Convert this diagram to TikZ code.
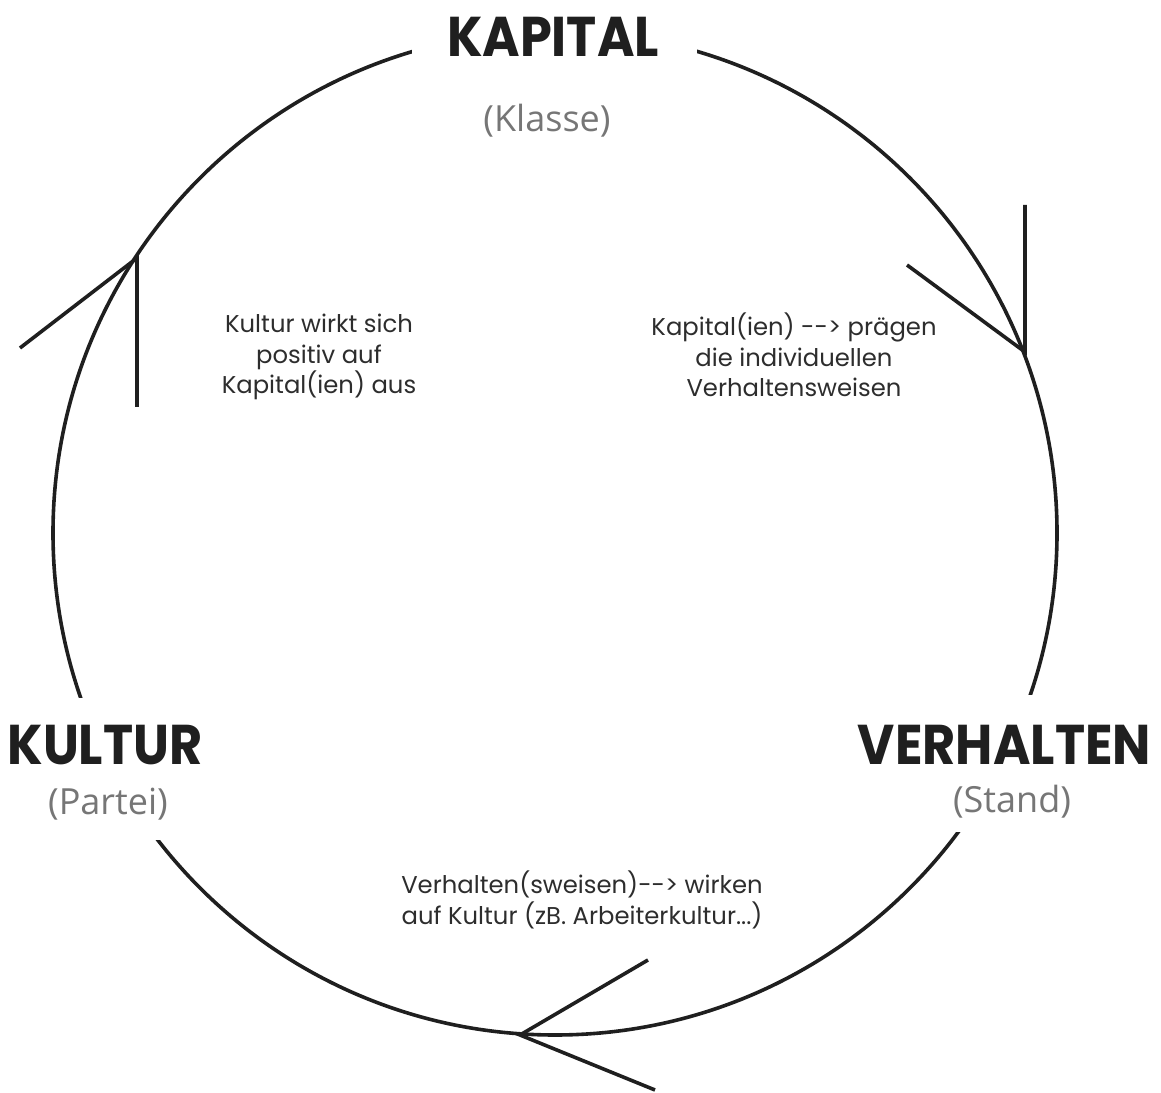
\documentclass[tikz,border=0pt]{standalone}
\usepackage{fontspec}
\setmainfont{Poppins}
\newfontfamily\titlefont{Poppins}[FakeStretch=0.91]
\newfontfamily\subfont{Open Sans}
\definecolor{subgray}{RGB}{118,118,118}
\definecolor{notegray}{RGB}{45,45,45}

\begin{document}
\begin{tikzpicture}[x=1pt,y=1pt,
  ring/.style={line width=3.6pt,black!88},
  maskbox/.style={fill=white,inner sep=0pt},
  title/.style={font=\titlefont\fontsize{56}{56}\selectfont\bfseries,text=black!88},
  sub/.style={font=\subfont\fontsize{36}{36}\selectfont,text=subgray},
  note/.style={font=\fontsize{24.3}{30.5}\selectfont,text=notegray,align=center}]
\useasboundingbox (0,0) rectangle (1161,1092);

\coordinate (c) at (555,559);
\draw[ring] (c) circle [radius=502];

% white boxes over the ring
\node[maskbox,minimum width=285,minimum height=80] (kapbox) at (554.5,1052) {};
\node[maskbox,minimum width=222,minimum height=142] (kulbox) at (111,323) {};
\node[maskbox,minimum width=311,minimum height=137] (verbox) at (1005.5,328.5) {};

\node[title,anchor=base] (kapital) at (553,1035) {KAPITAL};
\node[sub,anchor=base] (klasse) at (547,960) {(Klasse)};
\node[title,anchor=base] (kultur) at (105,327) {KULTUR};
\node[sub,anchor=base] (partei) at (108,277) {(Partei)};
\node[title,anchor=base] (verhalten) at (1004.5,327) {VERHALTEN};
\node[sub,anchor=base] (stand) at (1012,279) {(Stand)};

\node[note] (kulnote) at (319,735) {Kultur wirkt sich\\positiv auf\\Kapital(ien) aus};
\node[note] (kapnote) at (794,737) {Kapital(ien) -{}-{}> prägen\\die individuellen\\Verhaltensweisen};
\node[note] (vernote) at (582,192) {Verhalten(sweisen)-{}-{}> wirken\\auf Kultur (zB. Arbeiterkultur...)};

% arrowheads on the ring
\coordinate (lv) at (137,834);
\coordinate (la) at (137,685);
\coordinate (lb) at (20,744);
\draw[ring] (la) -- (lv) -- (lb);

\coordinate (rv) at (1025,740);
\coordinate (ra) at (1025,887);
\coordinate (rb) at (907,827);
\draw[ring] (ra) -- (rv) -- (rb);

\coordinate (bv) at (520,57);
\coordinate (ba) at (648,132);
\coordinate (bb) at (655,2);
\draw[ring] (ba) -- (bv) -- (bb);

\end{tikzpicture}
\end{document}
